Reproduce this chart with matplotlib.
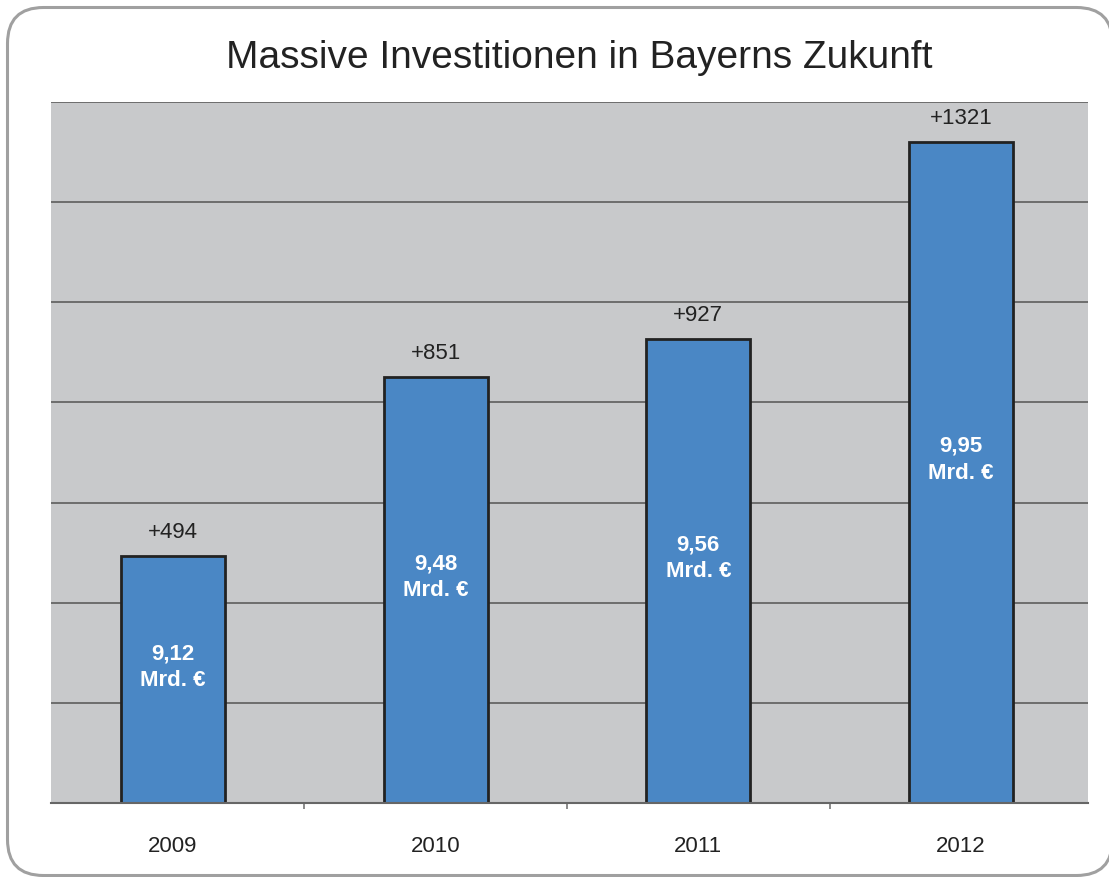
import matplotlib.pyplot as plt
from matplotlib.patches import FancyBboxPatch

plt.rcParams['font.family'] = ['Liberation Sans', 'DejaVu Sans']

# Daten
jahre = ['2009', '2010', '2011', '2012']
zuwachs = [494, 851, 927, 1321]  # Zuwachs in Mio. €
summen = ['9,12', '9,48', '9,56', '9,95']  # Mrd. €

W, H = 1109, 877
fig = plt.figure(figsize=(W / 100, H / 100), dpi=100)

# abgerundeter Rahmen (in Zoll)
rahmen = FancyBboxPatch((0.075, 0.015), 11.05, 8.68,
                        boxstyle='round,pad=0,rounding_size=0.36',
                        transform=fig.dpi_scale_trans, facecolor='white',
                        edgecolor='#a0a0a0', linewidth=2.2, zorder=-1)
fig.patches.append(rahmen)

fig.text(579 / W, 1 - 58 / H, 'Massive Investitionen in Bayerns Zukunft',
         ha='center', va='center', fontsize=28, color='#222222')

ax = fig.add_axes([51 / W, 1 - 803 / H, (1088 - 51) / W, (803 - 102) / H])
ax.set_facecolor('#c8c9cb')

x = range(len(jahre))
bars = ax.bar(x, zuwachs, width=0.395, color='#4a87c5', edgecolor='#222222',
              linewidth=2, zorder=3)

ax.set_xlim(-0.464, 3.483)
ax.set_ylim(0, 1400)
ax.set_yticks(range(200, 1401, 200))
ax.yaxis.grid(True, color='#666666', linewidth=1.3, zorder=1)
ax.set_axisbelow(True)
ax.tick_params(axis='y', left=False, labelleft=False)

ax.set_xticks(list(x))
ax.set_xticklabels(jahre, fontsize=16, color='#222222')
ax.tick_params(axis='x', length=0, pad=24)
ax.set_xticks([0.5, 1.5, 2.5], minor=True)
ax.tick_params(axis='x', which='minor', length=4, color='#777777', width=1.2)

for s in ['top', 'left', 'right']:
    ax.spines[s].set_visible(False)
ax.spines['bottom'].set_color('#666666')
ax.spines['bottom'].set_linewidth(1.5)
ax.spines['bottom'].set_zorder(4)

for i, (z, s) in enumerate(zip(zuwachs, summen)):
    ax.annotate(f'+{z}', (i, z), xytext=(0, 9), textcoords='offset points',
                ha='center', va='bottom', fontsize=16, color='#222222')
    ax.annotate(f'{s}\nMrd. €', (i, z / 2), xytext=(0, 9),
                textcoords='offset points', ha='center', va='center',
                fontsize=16, fontweight='bold', color='white',
                linespacing=1.35, zorder=5)

fig.savefig('out.png', dpi=100)
